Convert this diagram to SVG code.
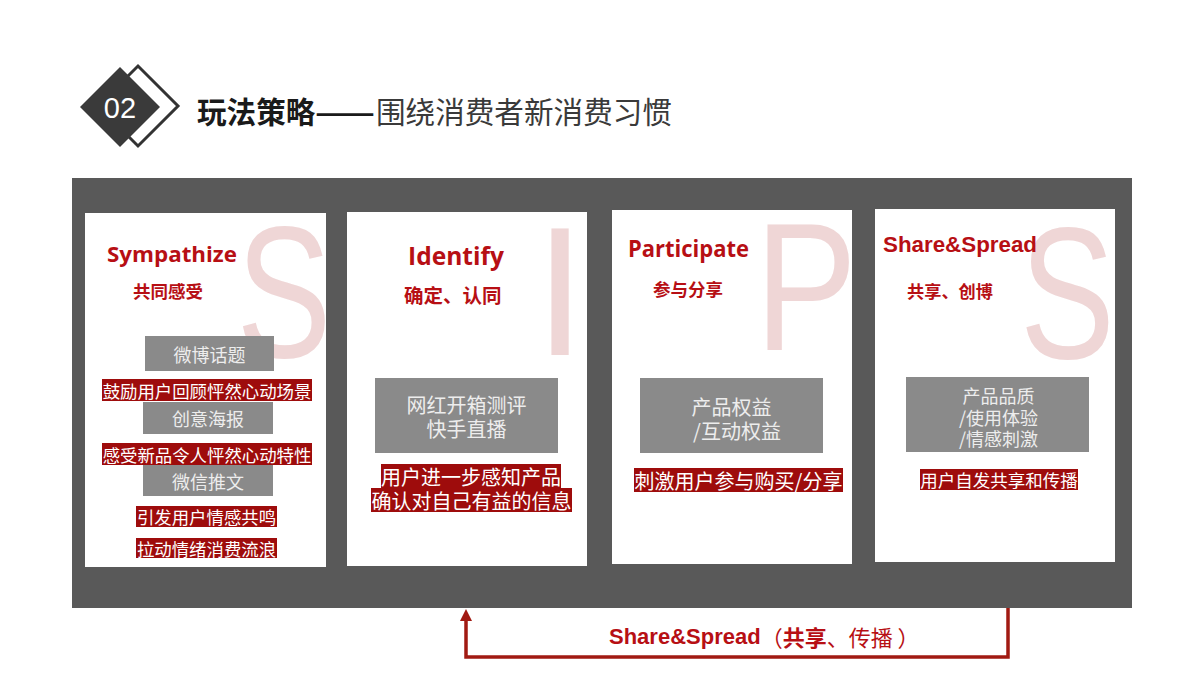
<svg xmlns="http://www.w3.org/2000/svg" width="1200" height="675" viewBox="0 0 1200 675">
<defs>
<style>
.cjk{font-family:"Noto Sans CJK SC","Noto Sans",sans-serif;}
.card{fill:#ffffff;}
.big{font-family:"Liberation Sans",Arial,sans-serif;fill:#EFD6D6;text-anchor:middle;}
.ttl{font-family:"Open Sans","Liberation Sans",sans-serif;font-weight:bold;fill:#B70F14;}
.sub{font-family:"Noto Sans CJK SC",sans-serif;font-weight:bold;fill:#B70F14;dominant-baseline:central;}
.gbox{fill:#8A8A8A;}
.gtxt{font-family:"Noto Sans CJK SC",sans-serif;fill:#EDEDED;text-anchor:middle;dominant-baseline:central;}
.rbar{fill:#9E0C0C;}
.rtxt{font-family:"Noto Sans CJK SC",sans-serif;fill:#FFFFFF;text-anchor:middle;dominant-baseline:central;}
.conn{fill:none;stroke:#A11A12;stroke-width:3.5;}
</style>
<marker id="arr" viewBox="0 0 12 12" markerWidth="12" markerHeight="12" refX="6" refY="6" orient="auto" markerUnits="userSpaceOnUse">
<path d="M0,0 L12,6 L0,12 z" fill="#A11A12"/>
</marker>
</defs>
<rect width="1200" height="675" fill="#ffffff"/>

<g id="header">
<polygon points="98,106 138,66 178,106 138,146" fill="#ffffff" stroke="#333333" stroke-width="3"/>
<polygon points="80,107 120,67 160,107 120,147" fill="#3A3A3A"/>
<text x="120" y="108" font-family="'Liberation Sans',Arial,sans-serif" font-size="29" fill="#ffffff" text-anchor="middle" dominant-baseline="central">02</text>
<text y="110" class="cjk" font-size="29.6" dominant-baseline="central"><tspan x="197" font-weight="bold" fill="#1A1A1A">玩法策略</tspan><tspan x="315" font-weight="bold" fill="#1A1A1A" textLength="60" lengthAdjust="spacingAndGlyphs">——</tspan><tspan x="376" fill="#3A3A3A">围绕消费者新消费习惯</tspan></text>
</g>

<rect id="panel" x="72" y="178" width="1060" height="430" fill="#595959"/>

<g id="card-sympathize">
<rect class="card" x="85" y="213" width="241" height="354"/>
<text class="big" transform="translate(284,357) scale(0.76,1)" font-size="187">S</text>
<text class="ttl" x="107" y="262" font-size="22" textLength="130" lengthAdjust="spacingAndGlyphs">Sympathize</text>
<text class="sub" x="133" y="290" font-size="17.5">共同感受</text>
<rect class="gbox" x="145" y="336" width="129" height="35"/>
<text class="gtxt" x="209.5" y="354" font-size="18">微博话题</text>
<rect class="rbar" x="102" y="379" width="210" height="22"/>
<text class="rtxt" x="207" y="390" font-size="17.4">鼓励用户回顾怦然心动场景</text>
<rect class="gbox" x="143" y="402" width="130" height="32"/>
<text class="gtxt" x="208" y="418" font-size="18">创意海报</text>
<rect class="rbar" x="102" y="443" width="210" height="22"/>
<text class="rtxt" x="207" y="454" font-size="17.4">感受新品令人怦然心动特性</text>
<rect class="gbox" x="143" y="465" width="130" height="31"/>
<text class="gtxt" x="208" y="481" font-size="18">微信推文</text>
<rect class="rbar" x="136" y="506" width="141" height="21"/>
<text class="rtxt" x="206.5" y="516.5" font-size="17.4">引发用户情感共鸣</text>
<rect class="rbar" x="136" y="538" width="141" height="20"/>
<text class="rtxt" x="206.5" y="548" font-size="17.4">拉动情绪消费流浪</text>
</g>

<g id="card-identify">
<rect class="card" x="347" y="212" width="240" height="354"/>
<text class="big" x="560" y="355" font-size="184">I</text>
<text class="ttl" x="408" y="265" font-size="25" textLength="96" lengthAdjust="spacingAndGlyphs">Identify</text>
<text class="sub" x="404" y="294" font-size="19.5">确定、认同</text>
<rect class="gbox" x="375" y="378" width="183" height="75"/>
<text class="gtxt" x="466.5" y="404" font-size="20">网红开箱测评</text>
<text class="gtxt" x="466.5" y="428" font-size="20">快手直播</text>
<rect class="rbar" x="381" y="464" width="180" height="24"/>
<text class="rtxt" x="471" y="476" font-size="20">用户进一步感知产品</text>
<rect class="rbar" x="371" y="488" width="201" height="24"/>
<text class="rtxt" x="471.5" y="500" font-size="20">确认对自己有益的信息</text>
</g>

<g id="card-participate">
<rect class="card" x="612" y="210" width="240" height="354"/>
<text class="big" transform="translate(806,350) scale(0.84,1)" font-size="182">P</text>
<text class="ttl" x="628" y="257" font-size="22.5" textLength="121" lengthAdjust="spacingAndGlyphs">Participate</text>
<text class="sub" x="653" y="288" font-size="17.5">参与分享</text>
<rect class="gbox" x="640" y="378" width="183" height="75"/>
<text class="gtxt" x="731.5" y="406" font-size="20">产品权益</text>
<text class="gtxt" x="737" y="430" font-size="20">/互动权益</text>
<rect class="rbar" x="634" y="468" width="209" height="24"/>
<text class="rtxt" x="738.5" y="480" font-size="20">刺激用户参与购买/分享</text>
</g>

<g id="card-share">
<rect class="card" x="875" y="209" width="240" height="353"/>
<text class="big" transform="translate(1067.5,358) scale(0.76,1)" font-size="187">S</text>
<text x="883" y="252" font-family="'Liberation Sans',Arial,sans-serif" font-weight="bold" fill="#B70F14" font-size="22" textLength="154" lengthAdjust="spacingAndGlyphs">Share&amp;Spread</text>
<text class="sub" x="907" y="290" font-size="17.2">共享、创博</text>
<rect class="gbox" x="906" y="377" width="183" height="75"/>
<text class="gtxt" x="998.5" y="395" font-size="18">产品品质</text>
<text class="gtxt" x="998.5" y="417" font-size="18">/使用体验</text>
<text class="gtxt" x="998.5" y="438" font-size="18">/情感刺激</text>
<rect class="rbar" x="920" y="469" width="158" height="21"/>
<text class="rtxt" x="999" y="479.5" font-size="17.5">用户自发共享和传播</text>
</g>

<g id="connectors">
<path class="conn" d="M1008,608 V657 H466 V615" marker-end="url(#arr)"/>
<text x="609" y="636" font-size="22" fill="#B70F14" dominant-baseline="central" font-family="'Liberation Sans','Noto Sans CJK SC',sans-serif"><tspan font-weight="bold">Share&amp;Spread</tspan><tspan font-family="'Noto Sans CJK SC',sans-serif">（</tspan><tspan font-family="'Noto Sans CJK SC',sans-serif" font-weight="bold">共享</tspan><tspan font-family="'Noto Sans CJK SC',sans-serif">、传播 ）</tspan></text>
</g>
</svg>
